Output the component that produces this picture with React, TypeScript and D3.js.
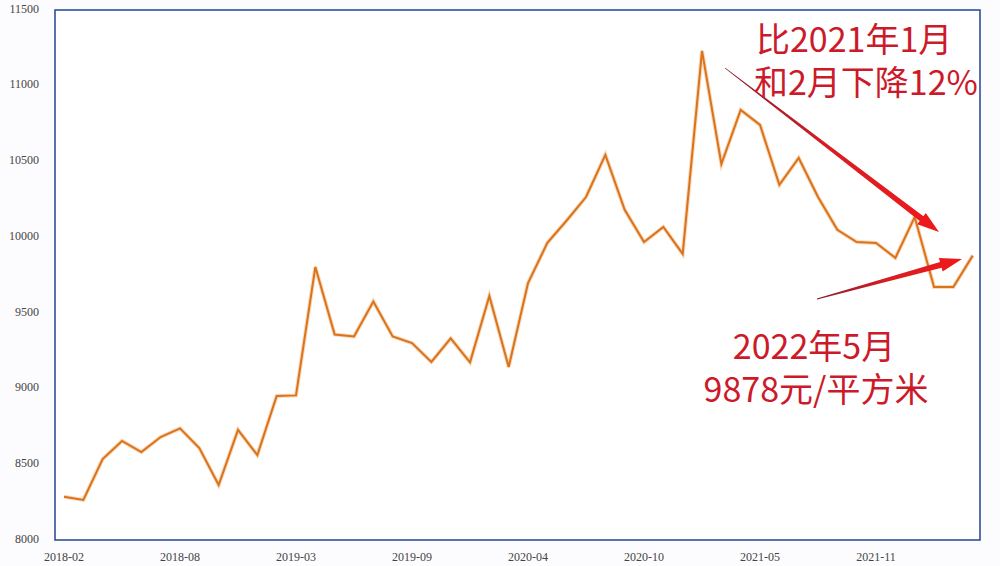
import React from "react";
import * as d3 from "d3";

const months = [
  "2018-02","2018-03","2018-04","2018-05","2018-06","2018-07","2018-08","2018-09","2018-10","2018-11","2018-12",
  "2019-02","2019-03","2019-04","2019-05","2019-06","2019-07","2019-08","2019-09","2019-10","2019-11","2019-12",
  "2020-02","2020-03","2020-04","2020-05","2020-06","2020-07","2020-08","2020-09","2020-10","2020-11","2020-12",
  "2021-02","2021-03","2021-04","2021-05","2021-06","2021-07","2021-08","2021-09","2021-10","2021-11","2021-12",
  "2022-02","2022-03","2022-04","2022-05",
];

const prices = [
  8285, 8265, 8535, 8654, 8581, 8680, 8737, 8607, 8363, 8727, 8561,
  8951, 8955, 9803, 9357, 9344, 9575, 9344, 9300, 9176, 9331, 9173,
  9612, 9143, 9697, 9962, 10110, 10265, 10543, 10180, 9968, 10067, 9889,
  11230, 10483, 10840, 10741, 10345, 10523, 10265, 10048, 9968, 9962, 9863,
  10133, 9671, 9671, 9878,
];

const xTickLabels = ["2018-02","2018-08","2019-03","2019-09","2020-04","2020-10","2021-05","2021-11"];
const yTicks = [8000, 8500, 9000, 9500, 10000, 10500, 11000, 11500];

const noteTop = ["比2021年1月", "和2月下降12%"];
const noteBottom = ["2022年5月", "9878元/平方米"];

const W = 1000;
const H = 566;
const frame = { left: 55, right: 980, top: 10, bottom: 540 };

function taperedArrow(x1: number, y1: number, x2: number, y2: number) {
  const dx = x2 - x1, dy = y2 - y1;
  const len = Math.hypot(dx, dy);
  const ux = dx / len, uy = dy / len;
  const nx = -uy, ny = ux;
  const headLen = 22, headW = 7, shaftEnd = 3, shaftStart = 0.4;
  const bx = x2 - ux * headLen, by = y2 - uy * headLen;
  const pts = [
    [x1 + nx * shaftStart, y1 + ny * shaftStart],
    [bx + nx * shaftEnd, by + ny * shaftEnd],
    [bx + nx * headW, by + ny * headW],
    [x2, y2],
    [bx - nx * headW, by - ny * headW],
    [bx - nx * shaftEnd, by - ny * shaftEnd],
    [x1 - nx * shaftStart, y1 - ny * shaftStart],
  ];
  return "M" + pts.map((p) => p[0].toFixed(1) + "," + p[1].toFixed(1)).join("L") + "Z";
}

export default function App() {
  const x = d3.scalePoint<string>().domain(months).range([64, 972.7]);
  const y = d3.scaleLinear().domain([8000, 11500]).range([frame.bottom, frame.top]);
  const line = d3
    .line<number>()
    .x((_, i) => x(months[i]) as number)
    .y((d) => y(d));
  const path = line(prices) || "";

  const arrows = [
    { x1: 725, y1: 68, x2: 939, y2: 232, id: "g1" },
    { x1: 817, y1: 299, x2: 962, y2: 259, id: "g2" },
  ];

  return (
    <svg
      width={W}
      height={H}
      style={{ position: "absolute", left: 0, top: 0, background: "#fcfcfe" }}
    >
      <defs>
        {arrows.map((a) => (
          <linearGradient
            key={a.id}
            id={a.id}
            gradientUnits="userSpaceOnUse"
            x1={a.x1}
            y1={a.y1}
            x2={a.x2}
            y2={a.y2}
          >
            <stop offset="0" stopColor="#8a1a2a" />
            <stop offset="0.5" stopColor="#d81e22" />
            <stop offset="1" stopColor="#f0181a" />
          </linearGradient>
        ))}
      </defs>
      <rect x={0} y={0} width={W} height={H} fill="#fcfcfe" />
      <rect
        x={frame.left}
        y={frame.top}
        width={frame.right - frame.left}
        height={frame.bottom - frame.top}
        fill="#ffffff"
        stroke="#2f4f9e"
        strokeWidth={1.6}
      />
      {yTicks.map((t) => (
        <text
          key={t}
          x={39}
          y={y(t)}
          textAnchor="end"
          dominantBaseline="middle"
          fontFamily="Liberation Serif, serif"
          fontSize={12}
          fill="#444"
        >
          {t}
        </text>
      ))}
      {xTickLabels.map((m) => (
        <text
          key={m}
          x={x(m) as number}
          y={558}
          textAnchor="middle"
          dominantBaseline="middle"
          fontFamily="Liberation Serif, serif"
          fontSize={12}
          fill="#444"
        >
          {m}
        </text>
      ))}
      <path d={path} fill="none" stroke="#f5b070" strokeWidth={4} strokeLinejoin="miter" opacity={0.5} />
      <path d={path} fill="none" stroke="#d9731c" strokeWidth={2} strokeLinejoin="miter" />
      {arrows.map((a) => (
        <path key={a.id} d={taperedArrow(a.x1, a.y1, a.x2, a.y2)} fill={`url(#${a.id})`} />
      ))}
      <g fontFamily="Noto Sans CJK SC, sans-serif" fontSize={34} fill="#cc1a2a">
        <text x={756} y={52}>{noteTop[0]}</text>
        <text x={754} y={95}>{noteTop[1]}</text>
        <text x={814} y={359} textAnchor="middle">{noteBottom[0]}</text>
        <text x={816} y={402} textAnchor="middle">{noteBottom[1]}</text>
      </g>
    </svg>
  );
}
